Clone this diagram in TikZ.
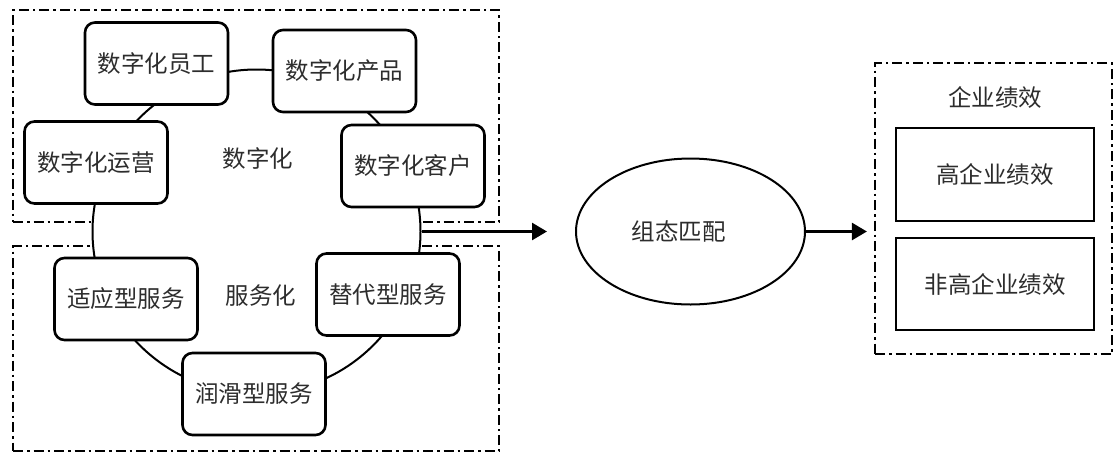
\documentclass[tikz,border=0pt]{standalone}
\usepackage{fontspec}
\newfontfamily\cjk{Noto Sans CJK SC}
\usetikzlibrary{arrows.meta,shapes.geometric}
\definecolor{txt}{RGB}{45,45,45}
\tikzset{
  frame/.style={draw=black, line width=2.2pt, dash pattern=on 10pt off 4pt on 2.5pt off 4pt, inner sep=0pt},
  cjkfont/.style={font=\cjk\fontsize{23.5}{28}\selectfont, text=txt},
  rbox/.style={draw=black, fill=white, line width=2.6pt, rounded corners=10pt,
    minimum width=143pt, minimum height=82pt, inner sep=0pt, cjkfont},
  sbox/.style={draw=black, fill=white, line width=2.6pt, inner sep=0pt,
    minimum width=198pt, cjkfont},
  lbl/.style={cjkfont, inner sep=0pt},
  arr/.style={line width=2.6pt, -{Triangle[length=15pt,width=17pt]}}
}
\begin{document}
\begin{tikzpicture}[x=1pt,y=-1pt]
\useasboundingbox (0,0) rectangle (1119,456);
\fill[white] (0,0) rectangle (1119,456);
% dashed frames
\node[frame, minimum width=486pt, minimum height=212pt] (topframe) at (256,116) {};
\node[frame, minimum width=486pt, minimum height=205pt] (botframe) at (256,348.5) {};
\node[frame, minimum width=237pt, minimum height=291pt] (perfframe) at (993.5,208.5) {};
% ring
\node[ellipse, draw=black, fill=white, line width=2pt, minimum width=328pt, minimum height=324pt, inner sep=0pt] (ring) at (256.5,231.5) {};
% labels
\node[lbl] (digi) at (258,159) {数字化};
\node[lbl] (serv) at (261,296) {服务化};
% rounded boxes
\node[rbox] (yuangong) at (156.5,63.5) {数字化员工};
\node[rbox] (chanpin) at (344.5,71) {数字化产品};
\node[rbox] (yunying) at (96,162.5) {数字化运营};
\node[rbox] (kehu) at (413,166) {数字化客户};
\node[rbox] (shiying) at (126,299) {适应型服务};
\node[rbox] (tidai) at (388,294.5) {替代型服务};
\node[rbox] (runhua) at (254,394) {润滑型服务};
% matching ellipse
\node[ellipse, draw=black, line width=2pt, minimum width=229pt, minimum height=146pt, inner sep=0pt, cjkfont] (match) at (690.5,231.5) {\hspace*{-24pt}组态匹配};
% performance
\node[lbl] (perf) at (995,97) {企业绩效};
\node[sbox, minimum height=93pt] (high) at (995,174.5) {高企业绩效};
\node[sbox, minimum height=92pt] (nonhigh) at (995,284) {非高企业绩效};
% arrows
\draw[arr, shorten >=28pt] (ring.east) -- (match.west);
\draw[arr, shorten >=7pt] (match.east) -- (match.east -| perfframe.west);
\end{tikzpicture}
\end{document}
